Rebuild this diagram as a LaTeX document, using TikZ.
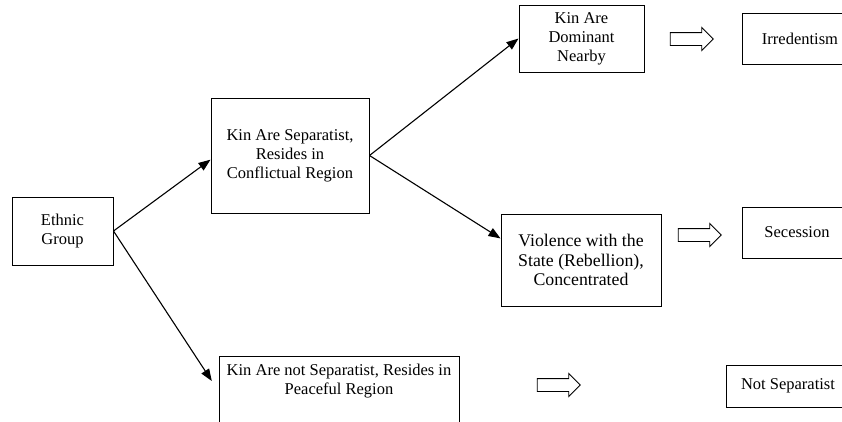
\documentclass[tikz,border=0pt]{standalone}
\usepackage{fontspec}
\setmainfont{Liberation Serif}
\usetikzlibrary{shapes.arrows}
\usetikzlibrary{positioning}
\usetikzlibrary{arrows.meta,calc}

\begin{document}
\begin{tikzpicture} [
       x=1pt, y=-1pt,
       box/.style={draw, line width=1pt, align=center, inner sep=0pt,
               font=\fontsize{16.5}{19}\selectfont},
       texte/.style={align=center, inner sep=0pt, font=\fontsize{16.5}{19}\selectfont},
       fat/.style={single arrow, draw, line width=0.9pt, minimum height=43pt,
               single arrow head extend=5pt, single arrow head indent=0pt, inner sep=6pt},
        line/.style     = { draw, line width=1.1pt, -{Triangle[length=12pt,width=9pt]} },
       ]
       \useasboundingbox (0,0) rectangle (842,421);
       \node (ethnic) [box, minimum width=101pt, minimum height=68pt] at (62.5,231) {Ethnic\\Group};
       \node (kinsep) [box, minimum width=158pt, minimum height=115pt] at (290,155.5) {Kin Are Separatist,\\Resides in\\Conflictual Region};
       \node (kindom) [box, minimum width=125pt, minimum height=67pt] at (581.5,38.5) {Kin Are\\Dominant\\Nearby};
       \node (violence) [box, minimum width=160pt, minimum height=92pt, font=\fontsize{17.8}{19.5}\selectfont] at (581,260) {Violence with the\\State (Rebellion),\\Concentrated};
       \node (kinpeace) [texte, minimum width=254pt] at (339,381) {Kin Are not Separatist, Resides in\\Peaceful Region};
       \draw [line width=1pt] (219,356) rectangle (459,440);
       % outcomes, cut by the page edge
       \node (irred) [box, minimum width=116pt, minimum height=51pt] at (800,38.5) {Irredentism};
       \node (secession) [box, minimum width=110pt, minimum height=51pt] at (797,232.5) {Secession};
       \node (notsep) [box, minimum width=124pt, minimum height=42pt] at (788,386) {Not Separatist};
       \node (fatA) [fat] at (688.5,39) {};
       \node (fatB) [fat] at (696.5,235) {};
       \node (fatC) [fat] at (555.5,385) {};
        \begin{scope}[every path/.style=line]
        \path (ethnic.east) -- (kinsep.183);
        \path (ethnic.east) -- (kinpeace.west);
        \path (kinsep.east) -- (kindom.west);
        \path (kinsep.east) -- (violence.165);
\end{scope}
\end{tikzpicture}
\end{document}
